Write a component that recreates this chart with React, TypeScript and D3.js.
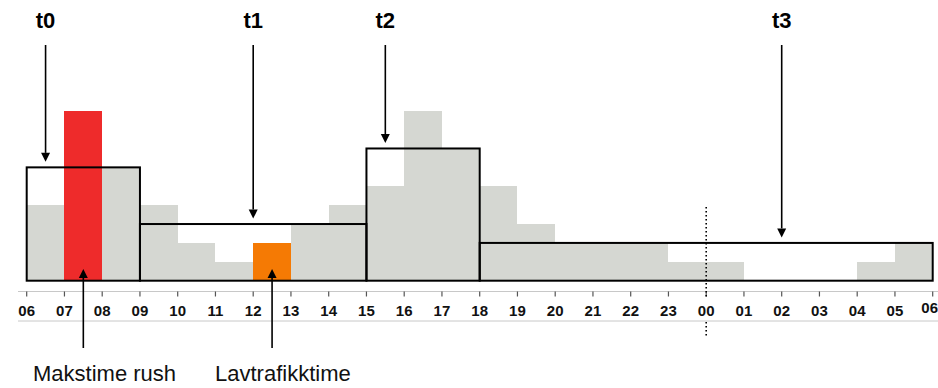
import * as d3 from "d3";

// hours from 06 to 06 (next day)
const hourLabels = ["06", "07", "08", "09", "10", "11", "12", "13", "14", "15", "16", "17", "18", "19", "20", "21", "22", "23", "00", "01", "02", "03", "04", "05", "06"];
// traffic per hour (relative units), starting at 06
const hourValues = [4, 9, 6, 4, 2, 1, 2, 3, 4, 5, 9, 7, 5, 3, 2, 2, 2, 1, 1, 0, 0, 0, 1, 2];
const highlight: Record<number, string> = { 1: "#ee2b2b", 6: "#f57a04" };

// time periods t0..t3: [start hour index, end hour index, level]
const periodNames = ["t0", "t1", "t2", "t3"];
const periodStart = [0, 3, 9, 12];
const periodEnd = [3, 9, 12, 24];
const periodLevel = [6, 3, 7, 2];
const periodArrowX = [0.5, 6, 9.5, 20];

// bottom annotations
const noteLabels = ["Makstime rush", "Lavtrafikktime"];
const noteHour = [1.5, 6.5];

const W = 938;
const H = 388;
const FONT = "'Liberation Sans', Arial, sans-serif";
const BAR_GRAY = "#d5d7d2";

const x = d3.scaleLinear().domain([0, 24]).range([26.7, 932.7]);
const y = d3.scaleLinear().domain([0, 9]).range([280.7, 110.7]);

const Arrow = ({ x0, y0, y1 }: { x0: number; y0: number; y1: number }) => {
  // arrow from y0 to tip at y1 (vertical)
  const dir = y1 > y0 ? 1 : -1;
  const head = 9;
  return (
    <g>
      <line x1={x0} x2={x0} y1={y0} y2={y1 - dir * head} stroke="#000" strokeWidth={1.6} />
      <path
        d={`M${x0 - 4.5},${y1 - dir * head} L${x0 + 4.5},${y1 - dir * head} L${x0},${y1} Z`}
        fill="#000"
      />
    </g>
  );
};

export default function App() {
  const base = y(0);

  const bars = hourValues.map((v, i) => (
    <rect
      key={i}
      x={x(i)}
      width={x(i + 1) - x(i)}
      y={y(v)}
      height={base - y(v)}
      fill={highlight[i] ?? BAR_GRAY}
      shapeRendering="crispEdges"
    />
  ));

  const boxes = periodNames.map((n, i) => (
    <rect
      key={n}
      x={x(periodStart[i])}
      width={x(periodEnd[i]) - x(periodStart[i])}
      y={y(periodLevel[i])}
      height={base - y(periodLevel[i])}
      fill="none"
      stroke="#000"
      strokeWidth={2}
    />
  ));

  const topArrows = periodNames.map((n, i) => (
    <g key={n}>
      <text
        x={x(periodArrowX[i])}
        y={28}
        textAnchor="middle"
        fontFamily={FONT}
        fontWeight="bold"
        fontSize={22}
      >
        {n}
      </text>
      <Arrow x0={x(periodArrowX[i])} y0={45} y1={y(periodLevel[i]) - 5.5} />
    </g>
  ));

  const noteX = [33, 215];
  const notes = noteLabels.map((n, i) => (
    <g key={n}>
      <Arrow x0={x(noteHour[i])} y0={348} y1={269} />
      <text x={noteX[i]} y={380.5} fontFamily={FONT} fontSize={22} fill="#111">
        {n}
      </text>
    </g>
  ));

  const axisY = 291.5;
  const ticks = hourLabels.map((l, i) => {
    const last = i === hourLabels.length - 1;
    return (
      <g key={i}>
        <line x1={x(i)} x2={x(i)} y1={axisY} y2={axisY + 5} stroke="#555" strokeWidth={1.2} />
        <text
          x={last ? x(i) - 3 : x(i)}
          y={last ? 313 : 315.5}
          textAnchor="middle"
          fontFamily={FONT}
          fontWeight="bold"
          fontSize={15}
          fill="#111"
        >
          {l}
        </text>
      </g>
    );
  });

  const midnight = x(18);

  return (
    <svg width={W} height={H} style={{ position: "absolute", left: 0, top: 0, background: "#fff" }}>
      {bars}
      {boxes}
      <line x1={18} x2={W} y1={axisY} y2={axisY} stroke="#c8c8c8" strokeWidth={1} />
      <line x1={18} x2={W} y1={321} y2={321} stroke="#c8c8c8" strokeWidth={1} />
      {ticks}
      <line
        x1={midnight}
        x2={midnight}
        y1={207}
        y2={297}
        stroke="#000"
        strokeWidth={1.6}
        strokeDasharray="1.6,2.4"
      />
      <line
        x1={midnight}
        x2={midnight}
        y1={322}
        y2={337}
        stroke="#000"
        strokeWidth={1.6}
        strokeDasharray="1.6,2.4"
      />
      {topArrows}
      {notes}
    </svg>
  );
}
